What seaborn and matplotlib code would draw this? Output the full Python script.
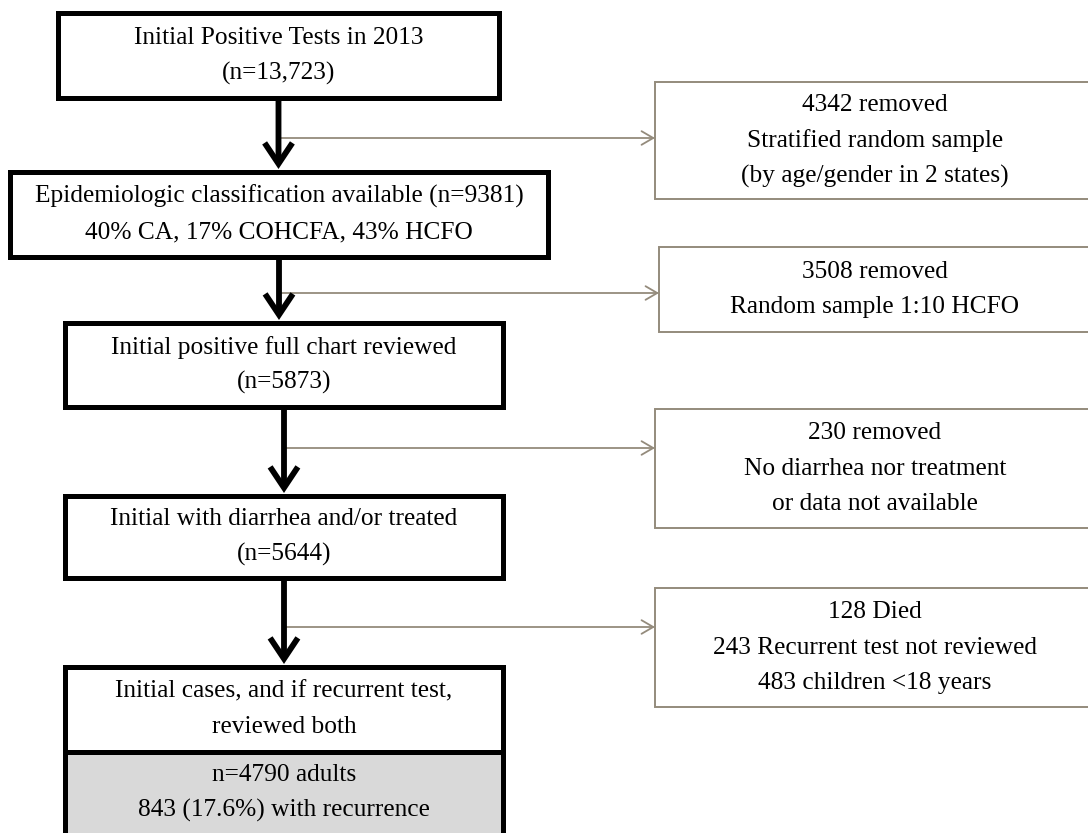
import matplotlib
matplotlib.use("Agg")
import matplotlib.pyplot as plt
from matplotlib.patches import Rectangle
import seaborn as sns

sns.set_theme(style="white")
plt.rcParams["font.family"] = ["Liberation Serif", "DejaVu Serif"]

# ---- data (texts of the flow diagram) ----
main_labels = [
    ["Initial Positive Tests in 2013", "(n=13,723)"],
    ["Epidemiologic classification available (n=9381)", "40% CA, 17% COHCFA, 43% HCFO"],
    ["Initial positive full chart reviewed", "(n=5873)"],
    ["Initial with diarrhea and/or treated", "(n=5644)"],
    ["Initial cases, and if recurrent test,", "reviewed both"],
]
final_labels = ["n=4790 adults", "843 (17.6%) with recurrence"]
side_labels = [
    ["4342 removed", "Stratified random sample", "(by age/gender in 2 states)"],
    ["3508 removed", "Random sample 1:10 HCFO"],
    ["230 removed", "No diarrhea nor treatment", "or data not available"],
    ["128 Died", "243 Recurrent test not reviewed", "483 children <18 years"],
]

# ---- layout (pixels, y downward) ----
W, H = 1088, 833
main_boxes = [  # x0, x1, y0, y1
    (58, 499, 13, 98),
    (10, 548, 172, 257),
    (65, 503, 323, 407),
    (65, 503, 496, 578),
    (65, 503, 667, 752),
]
final_box = (65, 503, 752, 850)
side_boxes = [
    (655, 1096, 82, 199),
    (659, 1096, 247, 332),
    (655, 1096, 409, 528),
    (655, 1096, 588, 707),
]
branch_y = [138, 293, 448, 627]
line_gap = 35.5
FS = 18.3
GRAY = "#948b7c"

fig = plt.figure(figsize=(W / 100, H / 100), dpi=100)
ax = fig.add_axes([0, 0, 1, 1])
ax.set_xlim(0, W)
ax.set_ylim(H, 0)
ax.axis("off")


def draw_lines(lines, xc, yc, gap):
    n = len(lines)
    for i, t in enumerate(lines):
        y = yc + (i - (n - 1) / 2) * gap
        ax.text(xc, y, t, ha="center", va="center", fontsize=FS, color="black",
                zorder=5)


# final grey box
x0, x1, y0, y1 = final_box
ax.add_patch(Rectangle((x0, y0), x1 - x0, y1 - y0, facecolor="#d9d9d9",
                       edgecolor="black", lw=3.6, zorder=2))
draw_lines(final_labels, (x0 + x1) / 2, 793, line_gap)

# main boxes
for (x0, x1, y0, y1), lab in zip(main_boxes, main_labels):
    ax.add_patch(Rectangle((x0, y0), x1 - x0, y1 - y0, facecolor="white",
                           edgecolor="black", lw=3.6, zorder=3))
    draw_lines(lab, (x0 + x1) / 2, (y0 + y1) / 2, line_gap)

# main arrows and branches
for i in range(4):
    a = main_boxes[i]
    b = main_boxes[i + 1]
    xc = (a[0] + a[1]) / 2
    ax.annotate("", xy=(xc, b[2] - 3), xytext=(xc, a[3] + 1),
                arrowprops=dict(arrowstyle="->,head_length=0.75,head_width=0.5",
                                lw=4.2, color="black", mutation_scale=20,
                                shrinkA=0, shrinkB=0, joinstyle="miter",
                                capstyle="butt"), zorder=4)
    s = side_boxes[i]
    ax.annotate("", xy=(s[0], branch_y[i]), xytext=(xc + 2, branch_y[i]),
                arrowprops=dict(arrowstyle="->,head_length=0.6,head_width=0.35",
                                lw=1.3, color=GRAY, mutation_scale=14,
                                shrinkA=0, shrinkB=0), zorder=1)

# side boxes
for (x0, x1, y0, y1), lab in zip(side_boxes, side_labels):
    ax.add_patch(Rectangle((x0, y0), x1 - x0, y1 - y0, facecolor="white",
                           edgecolor=GRAY, lw=1.4, zorder=3))
    draw_lines(lab, 875, (y0 + y1) / 2, line_gap)

fig.savefig("out.png", dpi=100)
